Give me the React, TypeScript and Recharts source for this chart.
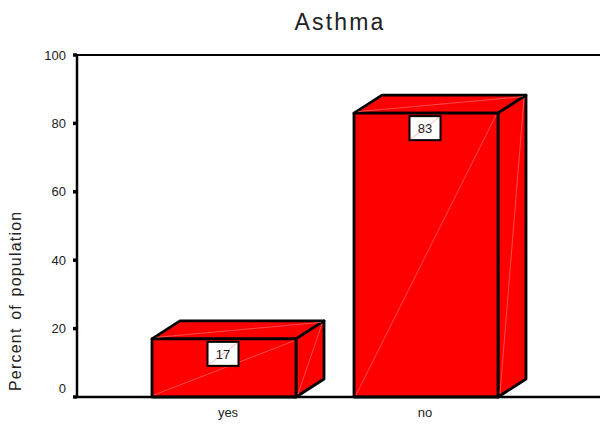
import { BarChart, Bar, XAxis, YAxis, ReferenceLine } from "recharts";

const categories = ["yes", "no"];
const percents = [17, 83];
const yTicks = [0, 20, 40, 60, 80, 100];

const data = categories.map((name, i) => ({ name, percent: percents[i] }));

const FONT = "'Liberation Sans', Arial, sans-serif";
const DEPTH_X = 28;
const DEPTH_Y = 18;

function Box3D(props: any) {
  const { x, y, width, height, value } = props;
  const r = x + width;
  const b = y + height;
  const cx = x + width / 2 - 1;
  const boxW = 31;
  const boxH = 24;
  const edge = { stroke: "#000", strokeWidth: 2.8, strokeLinejoin: "round" as const };
  const thin = { stroke: "#ff8080", strokeWidth: 0.6 };
  return (
    <g>
      <path
        d={`M${x},${y} L${x + DEPTH_X},${y - DEPTH_Y} L${r + DEPTH_X},${y - DEPTH_Y} L${r},${y} Z`}
        fill="#ff0000"
        {...edge}
      />
      <path
        d={`M${r},${y} L${r + DEPTH_X},${y - DEPTH_Y} L${r + DEPTH_X},${b - DEPTH_Y} L${r},${b} Z`}
        fill="#ff0000"
        {...edge}
      />
      <rect x={x} y={y} width={width} height={height} fill="#ff0000" {...edge} />
      <line x1={x + 2} y1={b - 2} x2={r - 2} y2={y + 2} {...thin} />
      <line x1={x + 4} y1={y - 1.5} x2={r + DEPTH_X - 3} y2={y - DEPTH_Y + 1.5} {...thin} />
      <line x1={r + 2} y1={b - 3} x2={r + DEPTH_X - 2} y2={y - DEPTH_Y + 3} {...thin} />
      <rect
        x={cx - boxW / 2}
        y={y + 3}
        width={boxW}
        height={boxH}
        fill="#fff"
        stroke="#000"
        strokeWidth={2}
      />
      <line x1={cx - boxW / 2 + 1} y1={y + 2 + boxH} x2={cx + boxW / 2 - 1} y2={y + 4} {...thin} />
      <text x={cx} y={y + 20} textAnchor="middle" fontSize={13} fontFamily={FONT} fill="#222">
        {value}
      </text>
    </g>
  );
}

function YTick(props: any) {
  const { x, y, payload } = props;
  const ax = x + 8; // recharts hands over x minus tick size and margin
  // the zero label sits above its tick in the original
  const labelY = payload.value === 0 ? y - 9 : y;
  return (
    <g>
      <line x1={ax - 4} y1={y} x2={ax} y2={y} stroke="#000" strokeWidth={3.5} />
      <text
        x={ax - 11}
        y={labelY}
        dy={4.5}
        textAnchor="end"
        fontSize={13}
        fontFamily={FONT}
        fill="#222"
      >
        {payload.value}
      </text>
    </g>
  );
}

function XTick(props: any) {
  const { x, y, payload } = props;
  const shift = payload.value === "yes" ? 4 : -1;
  return (
    <text x={x + shift} y={y + 2} dy={10} textAnchor="middle" fontSize={13} fontFamily={FONT} fill="#222">
      {payload.value}
    </text>
  );
}

export default function App() {
  return (
    <div style={{ position: "absolute", left: 0, top: 0, width: 600, height: 425, background: "#fff" }}>
      <BarChart
        width={600}
        height={425}
        data={data}
        margin={{ top: 55, right: 0, bottom: 0, left: 0 }}
        barSize={144}
      >
        <XAxis
          dataKey="name"
          height={28}
          padding={{ left: 46, right: 73 }}
          axisLine={{ stroke: "#000", strokeWidth: 2.5 }}
          tickLine={false}
          tick={<XTick />}
          interval={0}
        />
        <YAxis
          width={77}
          domain={[0, 100]}
          ticks={yTicks}
          axisLine={{ stroke: "#000", strokeWidth: 2.5 }}
          tickLine={false}
          tick={<YTick />}
          label={{
            value: "Percent of population",
            angle: -90,
            position: "insideLeft",
            offset: 0,
            dx: 15,
            dy: 165,
            style: { fontSize: 16, fontFamily: FONT, fill: "#222", letterSpacing: 1.2, wordSpacing: 2 },
          }}
        />
        <ReferenceLine y={100} stroke="#000" strokeWidth={2} />
        <Bar dataKey="percent" isAnimationActive={false} shape={<Box3D />} />
        <text
          x={340}
          y={30}
          textAnchor="middle"
          fontSize={23}
          fontFamily={FONT}
          fill="#222"
          letterSpacing={2.2}
        >
          Asthma
        </text>
      </BarChart>
    </div>
  );
}
